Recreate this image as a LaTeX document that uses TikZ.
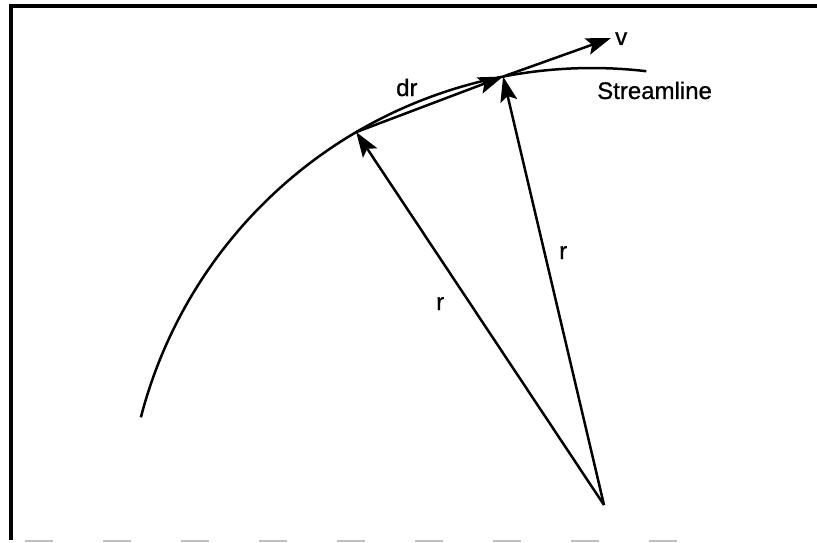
\documentclass[tikz,border=0pt]{standalone}
\usepackage{fontspec}
\setmainfont{Liberation Sans}
\newfontfamily\lblfont[FakeBold=0.8]{Liberation Sans}
\usetikzlibrary{arrows.meta}
\tikzset{
  vec/.style={line width=2.5pt, -{Stealth[length=25pt,width=17pt,inset=5pt]}},
  lbl/.style={inner sep=0pt, anchor=base west, font=\lblfont\fontsize{24}{28}\selectfont},
  frameline/.style={line width=3.5pt},
}
\begin{document}
\begin{tikzpicture}[x=1pt,y=-1pt]
\useasboundingbox (0,0) rectangle (817,543);
% frame
\draw[frameline] (11,540) -- (11,6) -- (817,6);
\draw[black!25, line width=2pt, dash pattern=on 28pt off 50pt] (25,541) -- (700,541);
% points
\coordinate (O) at (604,505);
\coordinate (P1) at ({592+466*cos(239.6)},{534+466*sin(239.6)});
\coordinate (P2) at ({592+466*cos(259)},{534+466*sin(259)});
\coordinate (V) at (611,38);
% streamline
\draw[line width=2.5pt] plot[domain=194.5:276.7, samples=80] ({592+466*cos(\x)},{534+466*sin(\x)});
% vectors
\draw[vec] (P1) -- (P2);
\draw[vec] (O) -- (P1);
\draw[vec] (O) -- (P2);
\draw[vec] (P2) -- (V);
% labels
\node[lbl] (lv) at (615,45) {v};
\node[lbl] (ldr) at (396,96) {dr};
\node[lbl] (ls) at (597,99) {Streamline};
\node[lbl] (lr2) at (559,259) {r};
\node[lbl] (lr1) at (436,310) {r};
\end{tikzpicture}
\end{document}
